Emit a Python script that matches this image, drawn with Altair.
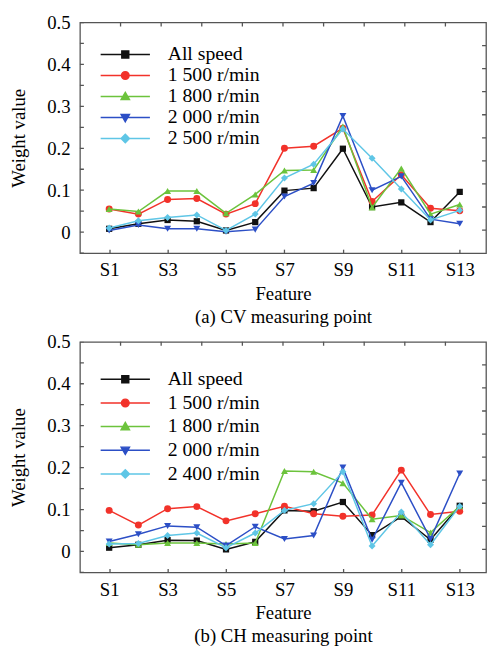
import altair as alt
import pandas as pd

features = list(range(1, 14))

names_cv = ["All speed", "1 500 r/min", "1 800 r/min", "2 000 r/min", "2 500 r/min"]
names_ch = ["All speed", "1 500 r/min", "1 800 r/min", "2 000 r/min", "2 400 r/min"]

cv_all = [0.008, 0.020, 0.029, 0.026, 0.004, 0.024, 0.099, 0.105, 0.199, 0.060, 0.071, 0.024, 0.096]
cv_1500 = [0.055, 0.043, 0.078, 0.080, 0.043, 0.068, 0.200, 0.205, 0.248, 0.073, 0.137, 0.057, 0.051]
cv_1800 = [0.055, 0.049, 0.098, 0.098, 0.045, 0.090, 0.147, 0.148, 0.252, 0.059, 0.152, 0.043, 0.066]
cv_2000 = [0.004, 0.017, 0.008, 0.008, 0.001, 0.006, 0.085, 0.117, 0.277, 0.100, 0.133, 0.031, 0.020]
cv_2500 = [0.010, 0.027, 0.035, 0.041, 0.004, 0.043, 0.129, 0.162, 0.246, 0.176, 0.103, 0.029, 0.052]

ch_all = [0.009, 0.016, 0.027, 0.026, 0.005, 0.023, 0.098, 0.096, 0.118, 0.039, 0.083, 0.028, 0.109]
ch_1500 = [0.098, 0.063, 0.102, 0.107, 0.073, 0.090, 0.108, 0.090, 0.084, 0.087, 0.194, 0.088, 0.096]
ch_1800 = [0.020, 0.016, 0.020, 0.020, 0.018, 0.020, 0.192, 0.190, 0.163, 0.077, 0.086, 0.045, 0.108]
ch_2000 = [0.024, 0.041, 0.061, 0.058, 0.014, 0.059, 0.030, 0.038, 0.200, 0.028, 0.164, 0.030, 0.186]
ch_2400 = [0.018, 0.019, 0.038, 0.044, 0.009, 0.044, 0.098, 0.114, 0.190, 0.013, 0.094, 0.016, 0.108]

colors = ["#111111", "#f2322a", "#6cc33c", "#2c4fc6", "#5fc6e6"]
plot_shapes = ["square", "circle", "triangle-up", "triangle-down", "diamond"]
marker_sizes = [40, 50, 50, 50, 50]
legend_paths = [
    "M-3.57,0H3.57M-0.5,-0.5H0.5V0.5H-0.5Z",
    "M-3.57,0H3.57M-0.55,0A0.55,0.55,0,1,0,0.55,0A0.55,0.55,0,1,0,-0.55,0Z",
    "M-3.57,0H3.57M0,-0.6L0.6,0.45L-0.6,0.45Z",
    "M-3.57,0H3.57M0,0.6L0.6,-0.45L-0.6,-0.45Z",
    "M-3.57,0H3.57M0,-0.6L0.6,0L0,0.6L-0.6,0Z",
]

X_MIN, X_MAX = 0, 13.9
Y_MIN, Y_MAX = -0.05, 0.5
y_major = [0.0, 0.1, 0.2, 0.3, 0.4, 0.5]
y_all_ticks = [-0.05, 0.0, 0.05, 0.1, 0.15, 0.2, 0.25, 0.3, 0.35, 0.4, 0.45, 0.5]
# the box's top and right edges carry ten equal divisions
frame_fracs = [0.1, 0.2, 0.3, 0.4, 0.5, 0.6, 0.7, 0.8, 0.9]

FONT = "Liberation Serif"
TICK = "#555555"


def panel(values_list, names, caption, legend_y, row_pad):
    rows = []
    for name, vals in zip(names, values_list):
        for f, v in zip(features, vals):
            rows.append({"series": name, "feature": f, "value": v})
    df = pd.DataFrame(rows)
    base = alt.Chart(df)

    x = alt.X(
        "feature:Q",
        scale=alt.Scale(domain=[X_MIN, X_MAX], nice=False, zero=False),
        axis=alt.Axis(
            values=features,
            labelExpr="datum.value % 2 == 1 ? 'S' + datum.value : ''",
            labelOverlap=False,
            tickSize=4,
            offset=-4,
            labelPadding=8,
            title=["Feature", caption],
            titlePadding=5,
            titleLineHeight=23,
        ),
    )
    y = alt.Y(
        "value:Q",
        scale=alt.Scale(domain=[Y_MIN, Y_MAX], nice=False, zero=False),
        axis=alt.Axis(
            values=y_major,
            format=".1~f",
            ticks=False,
            labelPadding=10,
            title="Weight value",
            titlePadding=18,
        ),
    )

    layers = []
    for name, col, shp, sz in zip(names, colors, plot_shapes, marker_sizes):
        sel = base.transform_filter(alt.datum.series == name)
        layers.append(sel.mark_line(color=col, strokeWidth=1.5).encode(x=x, y=y))
        layers.append(
            sel.mark_point(color=col, shape=shp, filled=True, opacity=1, size=sz).encode(x=x, y=y)
        )

    leg_props = dict(
        orient="none",
        legendX=36,
        legendY=legend_y,
        title=None,
        labelFont=FONT,
        labelFontSize=20,
        labelColor="#000000",
        labelOffset=33,
        labelLimit=300,
        symbolSize=196,
        symbolStrokeWidth=1.5,
        symbolOpacity=1,
        rowPadding=row_pad,
        padding=0,
    )
    legend_layer = (
        base.transform_filter("false")
        .mark_point(filled=True, opacity=1)
        .encode(
            x=x,
            y=y,
            fill=alt.Fill("series:N", scale=alt.Scale(domain=names, range=colors), legend=alt.Legend(**leg_props)),
            stroke=alt.Stroke("series:N", scale=alt.Scale(domain=names, range=colors), legend=alt.Legend(**leg_props)),
            shape=alt.Shape("series:N", scale=alt.Scale(domain=names, range=legend_paths), legend=alt.Legend(**leg_props)),
        )
    )

    # inward ticks on the left, top and right edges of the box (clipped half-ticks)
    left_df = pd.DataFrame({"ly": y_all_ticks})
    top_df = pd.DataFrame({"fx": [X_MIN + f * (X_MAX - X_MIN) for f in frame_fracs]})
    right_df = pd.DataFrame({"fy": [Y_MIN + f * (Y_MAX - Y_MIN) for f in frame_fracs]})
    left_ticks = (
        alt.Chart(left_df)
        .mark_tick(orient="horizontal", size=8, thickness=1.3, color=TICK, clip=True, opacity=1)
        .encode(y=alt.Y("ly:Q"), x=alt.datum(X_MIN))
    )
    top_ticks = (
        alt.Chart(top_df)
        .mark_tick(orient="vertical", size=8, thickness=1.3, color=TICK, clip=True, opacity=1)
        .encode(x=alt.X("fx:Q"), y=alt.datum(Y_MAX))
    )
    right_ticks = (
        alt.Chart(right_df)
        .mark_tick(orient="horizontal", size=8, thickness=1.3, color=TICK, clip=True, opacity=1)
        .encode(y=alt.Y("fy:Q"), x=alt.datum(X_MAX))
    )

    return alt.layer(*layers, legend_layer, left_ticks, top_ticks, right_ticks).properties(width=412, height=234)


p1 = panel([cv_all, cv_1500, cv_1800, cv_2000, cv_2500], names_cv, "(a) CV measuring point", 22.5, 1.3)
p2 = panel([ch_all, ch_1500, ch_1800, ch_2000, ch_2400], names_ch, "(b) CH measuring point", 28, 4)

chart = (
    alt.vconcat(p1, p2, spacing=5)
    .resolve_scale(fill="independent", stroke="independent", shape="independent")
    .properties(padding={"left": 1, "top": 0, "right": 0, "bottom": 0})
    .configure_view(stroke="#555555", strokeWidth=1.3)
    .configure_axis(
        labelFont=FONT,
        labelFontSize=19,
        labelColor="#000000",
        titleFont=FONT,
        titleFontSize=19,
        titleFontWeight="normal",
        titleColor="#000000",
        tickColor=TICK,
        tickWidth=1.3,
        grid=False,
        domain=False,
    )
)

chart.save("out.html", embed_options={"renderer": "svg", "actions": False})
